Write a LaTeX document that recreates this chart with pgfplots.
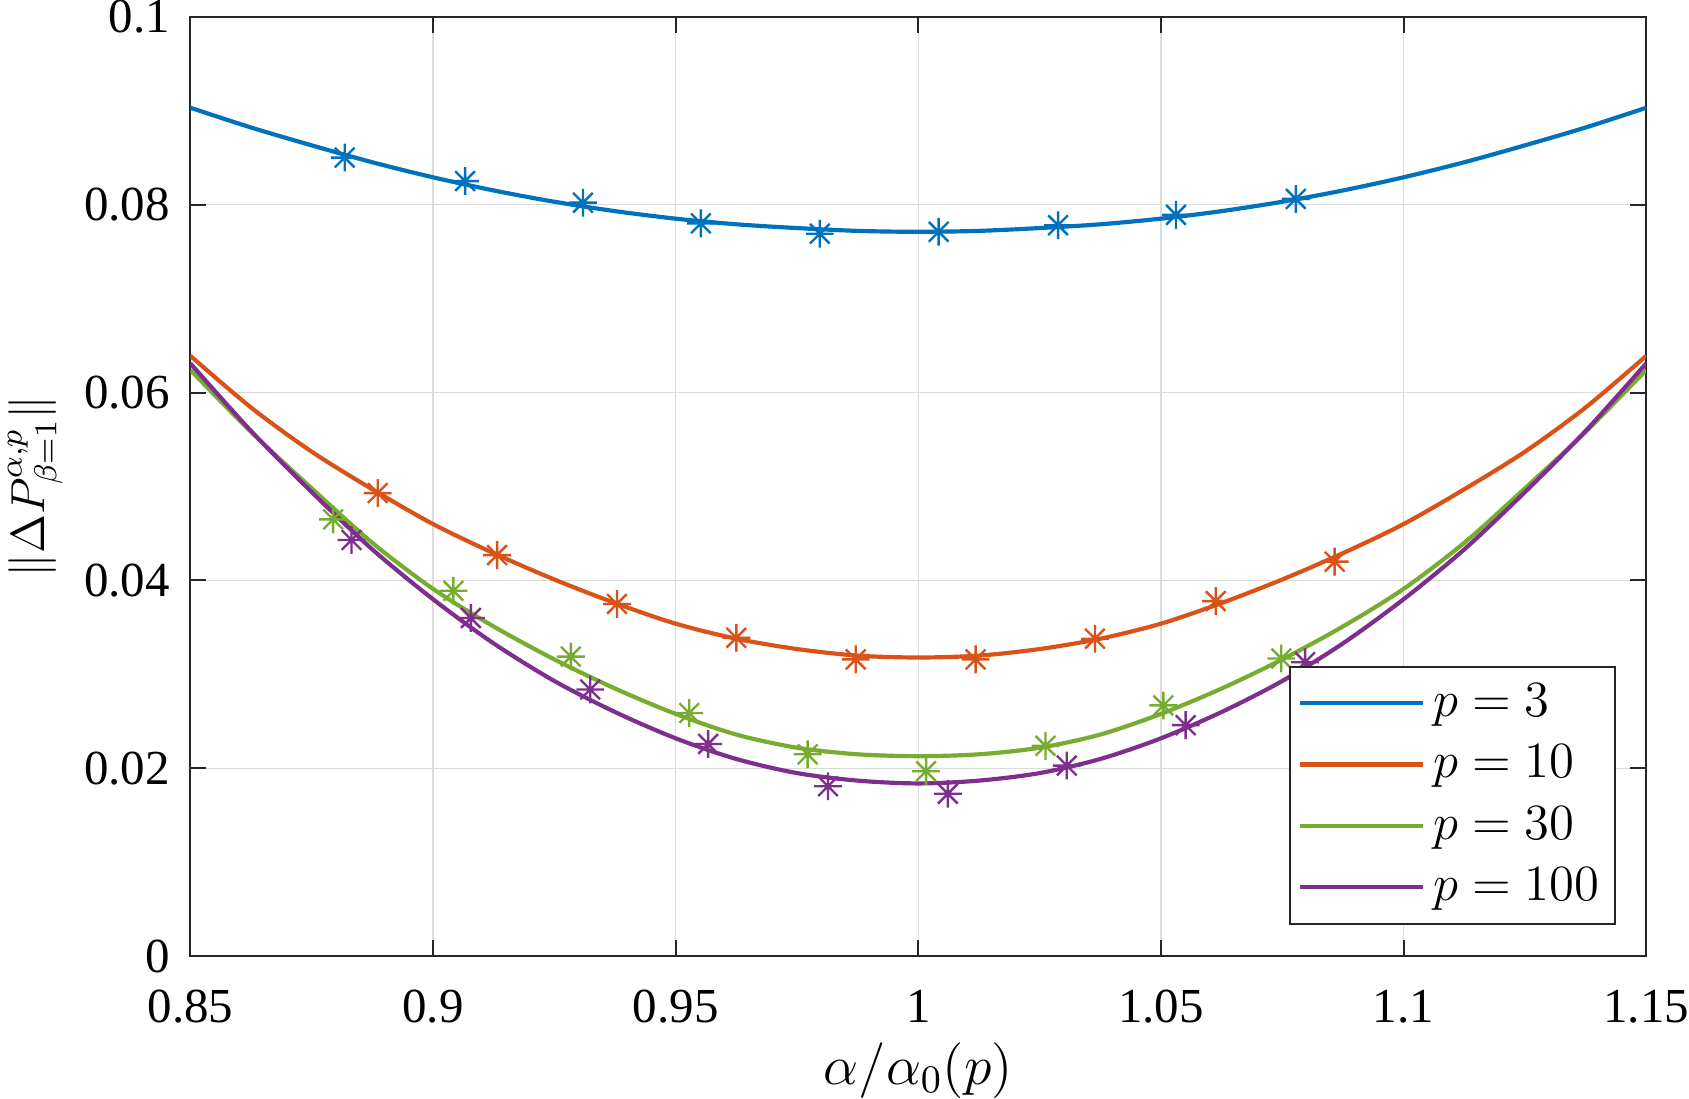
\RequirePackage{fix-cm}
\documentclass[border=0pt]{standalone}
\usepackage{fontspec}
\setmainfont{Liberation Serif}
\usepackage{pgfplots}
\usepackage{pgfplotstable}
\pgfplotsset{compat=1.18}

\definecolor{mblue}{rgb}{0,0.447,0.741}
\definecolor{morange}{rgb}{0.850,0.325,0.098}
\definecolor{mgreen}{rgb}{0.466,0.674,0.188}
\definecolor{mpurple}{rgb}{0.494,0.184,0.556}

% eight-armed star marker
\pgfdeclareplotmark{mstar}{%
  \pgfpathmoveto{\pgfqpoint{-\pgfplotmarksize}{0pt}}%
  \pgfpathlineto{\pgfqpoint{\pgfplotmarksize}{0pt}}%
  \pgfpathmoveto{\pgfqpoint{0pt}{-\pgfplotmarksize}}%
  \pgfpathlineto{\pgfqpoint{0pt}{\pgfplotmarksize}}%
  \pgfpathmoveto{\pgfqpoint{-0.7071\pgfplotmarksize}{-0.7071\pgfplotmarksize}}%
  \pgfpathlineto{\pgfqpoint{0.7071\pgfplotmarksize}{0.7071\pgfplotmarksize}}%
  \pgfpathmoveto{\pgfqpoint{-0.7071\pgfplotmarksize}{0.7071\pgfplotmarksize}}%
  \pgfpathlineto{\pgfqpoint{0.7071\pgfplotmarksize}{-0.7071\pgfplotmarksize}}%
  \pgfusepathqstroke}

% theoretical curves
\pgfplotstableread{
x      p3     p10    p30    p100
0.85   0.0903 0.0639 0.0624 0.0631
0.8625 0.0882 0.0584 0.0558 0.0559
0.875  0.0863 0.0537 0.0498 0.0494
0.8875 0.0845 0.0497 0.0440 0.0433
0.9    0.0829 0.0460 0.0391 0.0380
0.9125 0.0815 0.0429 0.0351 0.0333
0.925  0.0803 0.0401 0.0316 0.0293
0.9375 0.0793 0.0376 0.0285 0.0260
0.95   0.0785 0.0354 0.0258 0.0232
0.9625 0.0779 0.0338 0.0236 0.0210
0.975  0.0775 0.0327 0.0222 0.0195
0.9875 0.0772 0.0320 0.0215 0.0187
1.0    0.0771 0.0318 0.0213 0.0184
1.0125 0.0772 0.0320 0.0215 0.0187
1.025  0.0775 0.0327 0.0222 0.0195
1.0375 0.0779 0.0338 0.0236 0.0210
1.05   0.0785 0.0354 0.0258 0.0232
1.0625 0.0793 0.0376 0.0285 0.0260
1.075  0.0803 0.0401 0.0316 0.0293
1.0875 0.0815 0.0429 0.0351 0.0333
1.1    0.0829 0.0460 0.0391 0.0380
1.1125 0.0845 0.0497 0.0440 0.0433
1.125  0.0863 0.0537 0.0498 0.0494
1.1375 0.0882 0.0584 0.0558 0.0559
1.15   0.0903 0.0639 0.0624 0.0631
}\curves

% simulated points
\pgfplotstableread{
x      y
0.8818 0.0850
0.9066 0.0825
0.9309 0.0802
0.9552 0.0780
0.9797 0.0769
1.0042 0.0771
1.0288 0.0778
1.0531 0.0789
1.0778 0.0806
}\simA
\pgfplotstableread{
x      y
0.8886 0.0493
0.9132 0.0427
0.9379 0.0375
0.9625 0.0339
0.9871 0.0316
1.0118 0.0316
1.0364 0.0338
1.0613 0.0378
1.0858 0.0420
}\simB
\pgfplotstableread{
x      y
0.8794 0.0465
0.9042 0.0389
0.9284 0.0319
0.9528 0.0259
0.9772 0.0215
1.0016 0.0197
1.0262 0.0224
1.0505 0.0267
1.0748 0.0317
}\simC
\pgfplotstableread{
x      y
0.8832 0.0443
0.9078 0.0360
0.9324 0.0284
0.9567 0.0226
0.9814 0.0181
1.0061 0.0173
1.0306 0.0203
1.0551 0.0246
1.0797 0.0313
}\simD

\begin{document}
\begin{tikzpicture}
\begin{axis}[
  scale only axis,
  width=366pt, height=236.25pt,
  xmin=0.85, xmax=1.15, ymin=0, ymax=0.1,
  xtick={0.85,0.9,0.95,1,1.05,1.1,1.15},
  xticklabels={0.85,0.9,0.95,1,1.05,1.1,1.15},
  ytick={0,0.02,0.04,0.06,0.08,0.1},
  yticklabels={0,0.02,0.04,0.06,0.08,0.1},
  tick align=inside,
  major tick length=4pt,
  every tick/.style={black!85, line width=0.5pt},
  axis line style={black!85, line width=0.5pt},
  grid=major,
  grid style={black!14, line width=0.35pt},
  ticklabel style={font=\fontsize{12.3}{14}\selectfont, inner sep=0pt},
  xticklabel style={anchor=north, yshift=-8.25pt},
  yticklabel style={anchor=east, xshift=-5pt},
  xlabel={$\alpha/\alpha_0(p)$},
  ylabel={$\|\Delta P^{\alpha,p}_{\beta=1}\|$},
  xlabel style={font=\fontsize{14}{16}\selectfont, inner sep=0pt,
    at={(axis description cs:0.5,-0.1217)}, anchor=center},
  ylabel style={font=\fontsize{12}{14}\selectfont, inner sep=2pt,
    at={(axis description cs:-0.1066,0.5)}, anchor=center},
  legend style={at={(1,0)}, anchor=south east, xshift=-7.6pt, yshift=8pt,
    draw=black!85, line width=0.5pt, fill=white,
    font=\fontsize{12.75}{15}\selectfont,
    inner xsep=1.9pt, inner ysep=2.3pt, row sep=1.7pt},
  legend cell align=left,
  legend image code/.code={\draw[#1, line width=1.05pt] (0pt,0pt) -- (31pt,0pt);},
]
\addplot[mblue, line width=1.05pt, smooth] table[x=x, y=p3] {\curves};
\addlegendentry{$p=3$}
\addplot[morange, line width=1.05pt, smooth] table[x=x, y=p10] {\curves};
\addlegendentry{$p=10$}
\addplot[mgreen, line width=1.05pt, smooth] table[x=x, y=p30] {\curves};
\addlegendentry{$p=30$}
\addplot[mpurple, line width=1.05pt, smooth] table[x=x, y=p100] {\curves};
\addlegendentry{$p=100$}

\addplot[only marks, mark=mstar, mark size=3.5pt, mark options={line width=0.6pt}, mblue, forget plot] table {\simA};
\addplot[only marks, mark=mstar, mark size=3.5pt, mark options={line width=0.6pt}, morange, forget plot] table {\simB};
\addplot[only marks, mark=mstar, mark size=3.5pt, mark options={line width=0.6pt}, mgreen, forget plot] table {\simC};
\addplot[only marks, mark=mstar, mark size=3.5pt, mark options={line width=0.6pt}, mpurple, forget plot] table {\simD};
\end{axis}
\end{tikzpicture}
\end{document}
